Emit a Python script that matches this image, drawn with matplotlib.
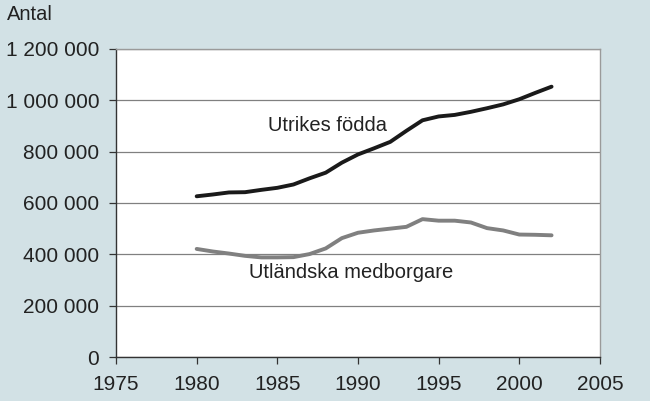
import matplotlib.pyplot as plt
import numpy as np

years = list(range(1980, 2003))
utrikes_fodda = [626000, 633000, 641000, 642000, 651000, 659000, 672000, 696000, 718000, 757000,
                 789000, 813000, 838000, 881000, 922000, 937000, 943000, 955000, 969000, 984000,
                 1004000, 1029000, 1053000]
utlandska_medb = [421000, 411000, 403000, 394000, 388000, 388000, 389000, 401000, 423000, 463000,
                  484000, 493000, 500000, 507000, 537000, 531000, 531000, 524000, 502000, 493000,
                  477000, 476000, 474000]
yticks = [0, 200000, 400000, 600000, 800000, 1000000, 1200000]
xticks = [1975, 1980, 1985, 1990, 1995, 2000, 2005]

plt.rcParams['font.family'] = ['Liberation Sans', 'DejaVu Sans']
bg = '#d2e1e5'

fig = plt.figure(figsize=(6.5, 4.01), dpi=100, facecolor=bg)
ax = fig.add_axes([0.1785, 0.1097, 0.923 - 0.1785, 0.878 - 0.1097])
ax.set_facecolor('white')

ax.plot(years, utrikes_fodda, color='#1a1a1a', lw=2.8, solid_capstyle='round')
ax.plot(years, utlandska_medb, color='#808080', lw=2.8, solid_capstyle='round')

ax.set_xlim(1975, 2005)
ax.set_ylim(0, 1200000)
ax.set_xticks(xticks)
ax.set_yticks(yticks)
ax.set_yticklabels([f'{v:,}'.replace(',', ' ') for v in yticks])
ax.yaxis.grid(True, color='#808080', lw=0.9)
ax.set_axisbelow(True)

ax.tick_params(axis='both', direction='out', length=5, width=0.9, color='#333333',
               labelsize=15, labelcolor='#222222')
ax.tick_params(axis='y', pad=7)
ax.tick_params(axis='x', pad=8)
for s in ['left', 'bottom']:
    ax.spines[s].set_color('#333333')
    ax.spines[s].set_linewidth(1.0)
for s in ['right', 'top']:
    ax.spines[s].set_color('#9a9a9a')
    ax.spines[s].set_linewidth(1.0)

ax.text(1988.1, 903000, 'Utrikes födda', fontsize=14.5, ha='center', va='center', color='#222222')
ax.text(1989.6, 328000, 'Utländska medborgare', fontsize=14.5, ha='center', va='center', color='#222222')
fig.text(7 / 650, 1 - 14 / 401, 'Antal', fontsize=14.5, ha='left', va='center', color='#222222')

fig.savefig('out.png', dpi=100, facecolor=bg)
